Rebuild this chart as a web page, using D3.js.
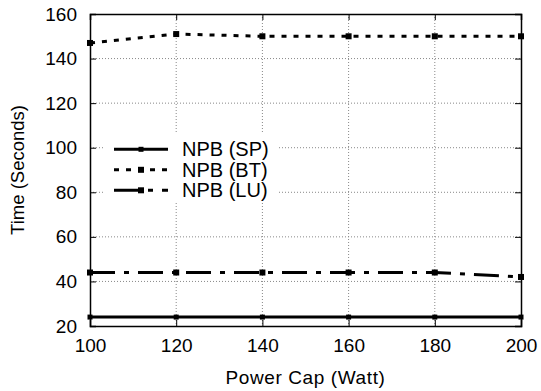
<!DOCTYPE html>
<html>
<head>
<meta charset="utf-8">
<script src="https://cdn.jsdelivr.net/npm/d3@7"></script>
<style>
  body { margin: 0; background: #fff; }
  text { font-family: "Liberation Sans", Arial, sans-serif; fill: #000; }
</style>
</head>
<body>
<div id="chart"></div>
<script>
var svgWidth = 541;
var svgHeight = 391;

var margin = { top: 14, right: 20, bottom: 65, left: 90 };
var width = 521 - margin.left;
var height = 326 - margin.top;

// data
var powerCaps = [100, 120, 140, 160, 180, 200];
var npbSP = [24, 24, 24, 24, 24, 24];
var npbBT = [147, 151, 150, 150, 150, 150];
var npbLU = [44, 44, 44, 44, 44, 42];
var seriesNames = ["NPB (SP)", "NPB (BT)", "NPB (LU)"];
var yTicks = [20, 40, 60, 80, 100, 120, 140, 160];

var series = [
  { name: seriesNames[0], values: npbSP, dash: null, size: 5 },
  { name: seriesNames[1], values: npbBT, dash: "5,7", size: 6 },
  { name: seriesNames[2], values: npbLU, dash: "25,9,5,9", size: 6 }
];

var svg = d3.select("#chart")
  .append("svg")
  .attr("width", svgWidth)
  .attr("height", svgHeight);

var chartGroup = svg.append("g")
  .attr("transform", `translate(${margin.left}, ${margin.top})`);

var xLinearScale = d3.scaleLinear().domain([100, 200]).range([0, width]);
var yLinearScale = d3.scaleLinear().domain([20, 160]).range([height, 0]);

// grid
chartGroup.append("g").selectAll("line")
  .data(yTicks.slice(1, -1))
  .enter().append("line")
  .attr("x1", 0).attr("x2", width)
  .attr("y1", d => yLinearScale(d)).attr("y2", d => yLinearScale(d))
  .attr("stroke", "#888").attr("stroke-width", 1).attr("stroke-dasharray", "1,2");

chartGroup.append("g").selectAll("line")
  .data(powerCaps.slice(1, -1))
  .enter().append("line")
  .attr("y1", 0).attr("y2", height)
  .attr("x1", d => xLinearScale(d)).attr("x2", d => xLinearScale(d))
  .attr("stroke", "#888").attr("stroke-width", 1).attr("stroke-dasharray", "1,2");

// axes (ticks inward)
var bottomAxis = d3.axisBottom(xLinearScale).tickValues(powerCaps).tickSize(-6).tickPadding(13);
var leftAxis = d3.axisLeft(yLinearScale).tickValues(yTicks).tickSize(-6).tickPadding(13);
var topAxis = d3.axisTop(xLinearScale).tickValues(powerCaps).tickSize(-6).tickFormat("");
var rightAxis = d3.axisRight(yLinearScale).tickValues(yTicks).tickSize(-6).tickFormat("");

var xAxis = chartGroup.append("g").attr("transform", `translate(0, ${height})`).call(bottomAxis);
var yAxis = chartGroup.append("g").call(leftAxis);
chartGroup.append("g").call(topAxis);
chartGroup.append("g").attr("transform", `translate(${width}, 0)`).call(rightAxis);

chartGroup.selectAll(".domain").attr("stroke", "#000").attr("stroke-width", 1.5);
chartGroup.selectAll(".tick line").attr("stroke", "#000").attr("stroke-width", 1);
chartGroup.selectAll(".tick text").style("font-size", "19px").attr("fill", "#000");

// lines
var line = d3.line()
  .x((d, i) => xLinearScale(powerCaps[i]))
  .y(d => yLinearScale(d));

series.forEach(function(s) {
  chartGroup.append("path")
    .datum(s.values)
    .attr("fill", "none")
    .attr("stroke", "#000")
    .attr("stroke-width", 3)
    .attr("stroke-dasharray", s.dash)
    .attr("d", line);
  chartGroup.append("g").selectAll("rect")
    .data(s.values)
    .enter().append("rect")
    .attr("x", (d, i) => xLinearScale(powerCaps[i]) - s.size / 2)
    .attr("y", d => yLinearScale(d) - s.size / 2)
    .attr("width", s.size).attr("height", s.size)
    .attr("fill", "#000");
});

// legend
var legend = svg.append("g").attr("transform", "translate(103, 134)");
legend.append("rect").attr("width", 175).attr("height", 68).attr("fill", "#fff");
series.forEach(function(s, i) {
  var y = 15.3 + i * 20.5;
  legend.append("line")
    .attr("x1", 11).attr("x2", 65).attr("y1", y).attr("y2", y)
    .attr("stroke", "#000").attr("stroke-width", 3)
    .attr("stroke-dasharray", i === 0 ? null : (i === 1 ? "5,7" : "25,9,5,9"));
  legend.append("rect")
    .attr("x", 38 - s.size / 2).attr("y", y - s.size / 2)
    .attr("width", s.size).attr("height", s.size).attr("fill", "#000");
  legend.append("text")
    .attr("x", 79).attr("y", y + 6.8)
    .style("font-size", "20px")
    .text(s.name);
});

// axis labels
svg.append("text")
  .attr("x", margin.left + width / 2).attr("y", 384)
  .attr("text-anchor", "middle")
  .style("font-size", "19px")
  .style("letter-spacing", "0.6px")
  .text("Power Cap (Watt)");

svg.append("text")
  .attr("transform", `translate(24, ${margin.top + height / 2}) rotate(-90)`)
  .attr("text-anchor", "middle")
  .style("font-size", "18.5px")
  .text("Time (Seconds)");
</script>
</body>
</html>
